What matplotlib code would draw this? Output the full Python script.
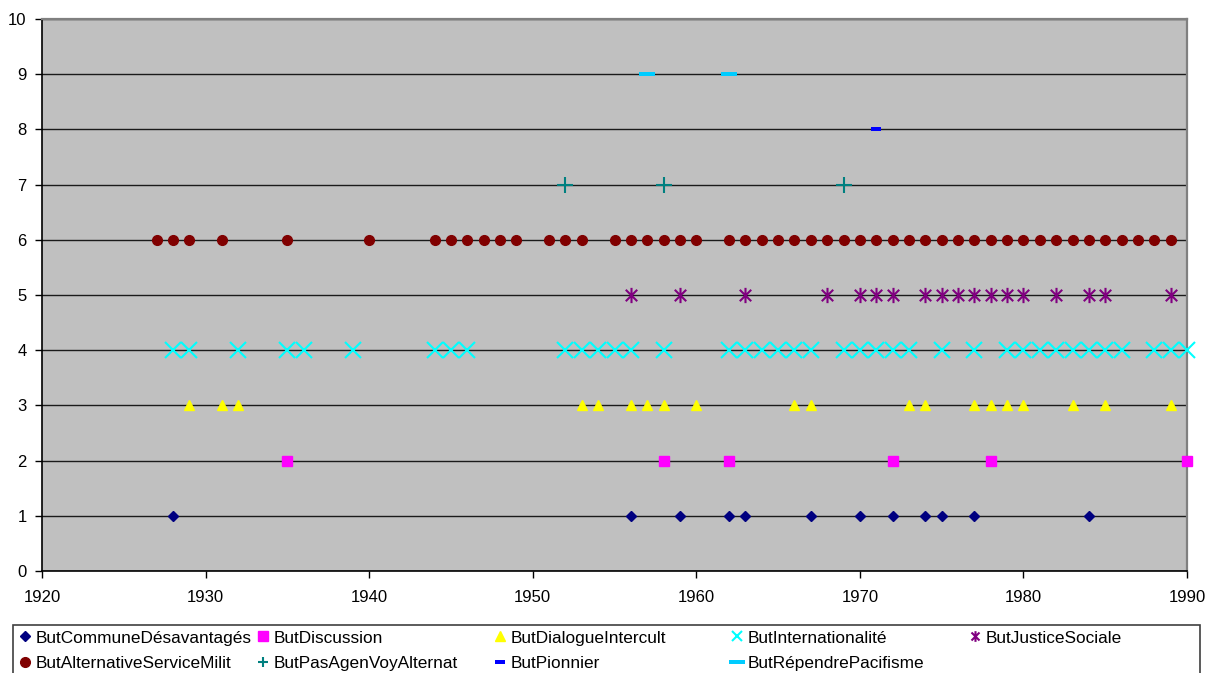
import matplotlib.pyplot as plt
from matplotlib.path import Path
from matplotlib.patches import Rectangle

plt.rcParams['font.family'] = ['Liberation Sans', 'DejaVu Sans']

# annees par serie
communes = [1928, 1956, 1959, 1962, 1963, 1967, 1970, 1972, 1974, 1975, 1977, 1984]
discussion = [1935, 1958, 1962, 1972, 1978, 1990]
dialogue = [1929, 1931, 1932, 1953, 1954, 1956, 1957, 1958, 1960, 1966, 1967, 1973,
            1974, 1977, 1978, 1979, 1980, 1983, 1985, 1989]
international = [1928, 1929, 1932, 1935, 1936, 1939, 1944, 1945, 1946, 1952, 1953, 1954,
                 1955, 1956, 1958, 1962, 1963, 1964, 1965, 1966, 1967, 1969, 1970, 1971,
                 1972, 1973, 1975, 1977, 1979, 1980, 1981, 1982, 1983, 1984, 1985, 1986,
                 1988, 1989, 1990]
justice = [1956, 1959, 1963, 1968, 1970, 1971, 1972, 1974, 1975, 1976, 1977, 1978,
           1979, 1980, 1982, 1984, 1985, 1989]
alternative = [1927, 1928, 1929, 1931, 1935, 1940, 1944, 1945, 1946, 1947, 1948, 1949,
               1951, 1952, 1953, 1955, 1956, 1957, 1958, 1959, 1960, 1962, 1963, 1964,
               1965, 1966, 1967, 1968, 1969, 1970, 1971, 1972, 1973, 1974, 1975, 1976,
               1977, 1978, 1979, 1980, 1981, 1982, 1983, 1984, 1985, 1986, 1987, 1988,
               1989]
pasagen = [1952, 1958, 1969]
pionnier = [1971]
pacifisme = [1957, 1962]

series_names = ["ButCommuneDésavantagés", "ButDiscussion", "ButDialogueIntercult",
                "ButInternationalité", "ButJusticeSociale", "ButAlternativeServiceMilit",
                "ButPasAgenVoyAlternat", "ButPionnier", "ButRépendrePacifisme"]
series_years = [communes, discussion, dialogue, international, justice, alternative,
                pasagen, pionnier, pacifisme]
series_levels = [1, 2, 3, 4, 5, 6, 7, 8, 9]

# marqueurs speciaux
star = Path([(0, -1), (0, 1), (-0.75, -0.75), (0.75, 0.75), (-0.75, 0.75), (0.75, -0.75)],
            [Path.MOVETO, Path.LINETO, Path.MOVETO, Path.LINETO, Path.MOVETO, Path.LINETO])
dash_long = [(-4, -1), (4, -1), (4, 1), (-4, 1), (-4, -1)]
dash_short = [(-2.25, -1), (2.25, -1), (2.25, 1), (-2.25, 1), (-2.25, -1)]

styles = [
    dict(marker='D', ms=4.6, color='#000080'),
    dict(marker='s', ms=7, color='#FF00FF'),
    dict(marker='^', ms=7, color='#FFFF00'),
    dict(marker='x', ms=11, color='#00FFFF', mew=1.5),
    dict(marker=star, ms=11, color='#800080', mew=1.5, mfc='none'),
    dict(marker='o', ms=7, color='#800000'),
    dict(marker='+', ms=11, color='#008080', mew=1.5),
    dict(marker=dash_short, ms=6.5, color='#0000FF', mew=0),
    dict(marker=dash_long, ms=11.5, color='#00CCFF', mew=0),
]
legend_scale = [1, 1, 1, 0.7, 0.7, 1, 0.7, 1, 1]

fig = plt.figure(figsize=(12.09, 6.73), dpi=100)
W, H = 1209, 673
ax = fig.add_axes([42 / W, 1 - 571 / H, (1187 - 42) / W, (571 - 19) / H])
ax.set_facecolor('#C0C0C0')

handles = []
for yrs, lvl, st in zip(series_years, series_levels, styles):
    h, = ax.plot(yrs, [lvl] * len(yrs), ls='none', zorder=3, clip_on=False, **st)
    handles.append(h)

ax.set_xlim(1920, 1990)
ax.set_ylim(0, 10)
ax.set_xticks(range(1920, 1991, 10))
ax.set_yticks(range(0, 11))
ax.yaxis.grid(True, color='#1a1a1a', lw=1.0, zorder=1)
ax.set_axisbelow(True)
ax.tick_params(axis='both', labelsize=12, length=5, width=1, color='black')
ax.tick_params(axis='y', pad=6)
ax.tick_params(axis='x', pad=9)
for s in ['left', 'bottom']:
    ax.spines[s].set_color('black')
    ax.spines[s].set_linewidth(1.2)
for s in ['top', 'right']:
    ax.spines[s].set_color('#808080')
    ax.spines[s].set_linewidth(1.6)

# legende en bas, 5 colonnes x 2 lignes
fig.add_artist(Rectangle((13 / W, -0.01), (1200 - 13) / W, 1 - 625 / H + 0.01,
                         transform=fig.transFigure, fill=False, ec='#404040', lw=1.2))
col_x = [25, 263, 500, 737, 975]
row_y = [638, 663]
for i, (h, name) in enumerate(zip(handles, series_names)):
    row, col = divmod(i, 5)
    fig.legend([h], [name], loc='center left',
               bbox_to_anchor=((col_x[col] - 6) / W, 1 - row_y[row] / H),
               frameon=False, fontsize=12.4, handlelength=0.75, handletextpad=0.2,
               borderpad=0, borderaxespad=0, numpoints=1, markerscale=legend_scale[i])

fig.savefig('out.png', dpi=100)
